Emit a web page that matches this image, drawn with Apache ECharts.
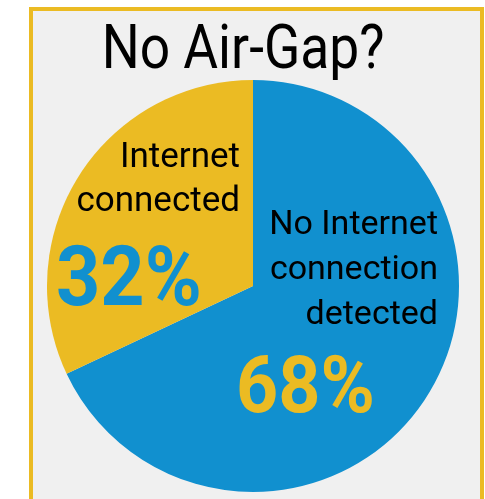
<!DOCTYPE html>
<html>
<head>
<meta charset="utf-8">
<script src="https://cdn.jsdelivr.net/npm/echarts@6/dist/echarts.min.js"></script>
<style>
  html, body { margin: 0; padding: 0; background: #ffffff; }
  #main { width: 485px; height: 499px; }
</style>
</head>
<body>
<div id="main"></div>
<script>
// 数据
var sliceNames = ['No Internet connection detected', 'Internet connected'];
var sliceLabels = ['No Internet\nconnection\ndetected', 'Internet\nconnected'];
var sliceValues = [68, 32];
var sliceColors = ['#1190cf', '#ebbb23'];
var titleText = 'No Air-Gap?';

var fontName = 'Roboto, "Noto Sans", sans-serif';

var pieData = [];
for (var i = 0; i < sliceNames.length; i++) {
    pieData.push({ name: sliceNames[i], value: sliceValues[i], itemStyle: { color: sliceColors[i] } });
}

var myChart = echarts.init(document.getElementById('main'));

var option = {
    animation: false,
    backgroundColor: '#ffffff',
    graphic: [
        {
            type: 'rect', z: -10,
            shape: { x: 31, y: 9, width: 451, height: 520 },
            style: { fill: '#f0f0f0', stroke: '#ebbb23', lineWidth: 4 }
        },
        {
            type: 'text', z: 10, x: 243, y: 52, scaleX: 0.86,
            style: { text: titleText, font: '62px ' + fontName, fill: '#000000', textAlign: 'center', textVerticalAlign: 'middle' }
        },
        // 金色区域标签
        {
            type: 'text', z: 10, x: 240, y: 136,
            style: { text: sliceLabels[1], font: '35px ' + fontName, lineHeight: 44, fill: '#000000', textAlign: 'right', textVerticalAlign: 'top' }
        },
        {
            type: 'text', z: 10, x: 56, y: 284, scaleX: 0.92,
            style: { text: sliceValues[1] + '%', font: 'bold 84px ' + fontName, fill: sliceColors[0], textAlign: 'left', textVerticalAlign: 'middle' }
        },
        // 蓝色区域标签
        {
            type: 'text', z: 10, x: 438, y: 203,
            style: { text: sliceLabels[0], font: '34px ' + fontName, lineHeight: 45, fill: '#000000', textAlign: 'right', textVerticalAlign: 'top' }
        },
        {
            type: 'text', z: 10, x: 236, y: 392, scaleX: 0.92,
            style: { text: sliceValues[0] + '%', font: 'bold 80px ' + fontName, fill: sliceColors[1], textAlign: 'left', textVerticalAlign: 'middle' }
        }
    ],
    series: [{
        type: 'pie',
        center: [253, 286],
        radius: 206,
        startAngle: 90,
        clockwise: true,
        label: { show: false },
        labelLine: { show: false },
        itemStyle: { borderWidth: 0 },
        emphasis: { disabled: true },
        data: pieData
    }]
};

myChart.setOption(option);
</script>
</body>
</html>
